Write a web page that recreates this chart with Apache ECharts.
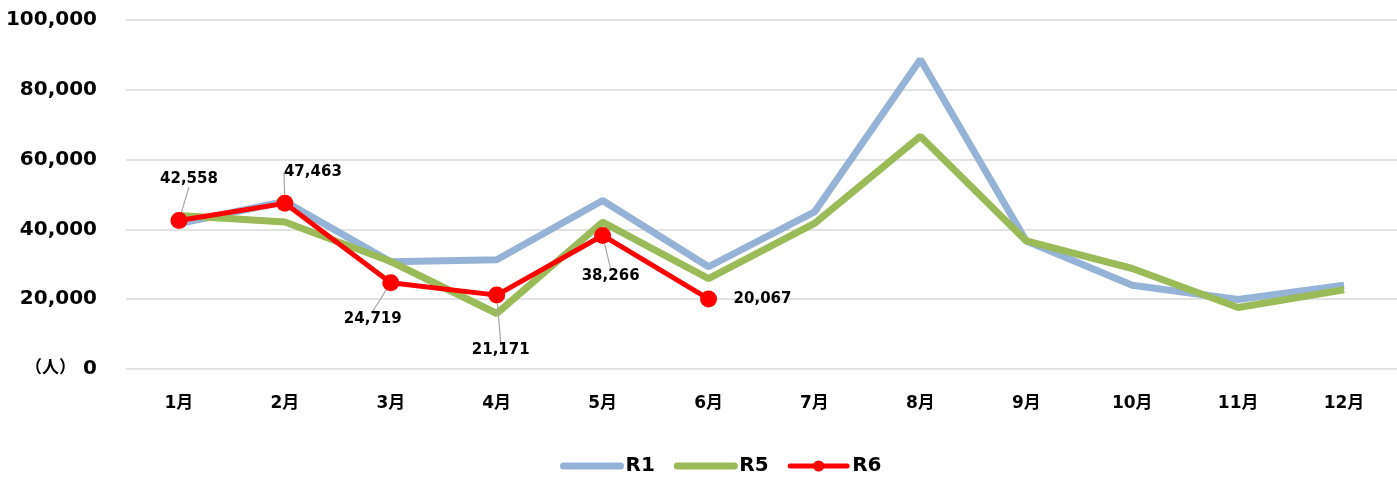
<!DOCTYPE html>
<html>
<head>
<meta charset="utf-8">
<script src="https://cdn.jsdelivr.net/npm/echarts@6/dist/echarts.min.js"></script>
<style>
  html, body { margin: 0; padding: 0; background: #fff; }
  #chart { width: 1397px; height: 479px; }
</style>
</head>
<body>
<div id="chart"></div>
<script>
const months = ['1月', '2月', '3月', '4月', '5月', '6月', '7月', '8月', '9月', '10月', '11月', '12月']
const r1 = [41700, 48000, 30700, 31300, 48300, 29300, 45000, 88700, 36700, 24000, 19900, 24000]
const r5 = [44000, 42100, 30800, 15900, 42100, 25900, 41700, 66700, 36700, 28800, 17600, 22700]
const r6 = [42558, 47463, 24719, 21171, 38266, 20067]
const yTicks = [0, 20000, 40000, 60000, 80000, 100000]

// label offsets from each R6 point (px)
const labelOffsets = [[10, -41], [28, -31], [-18, 36], [4, 55], [8, 41], [54, 0]]

const font = "'DejaVu Sans', 'Noto Sans CJK JP', sans-serif"

const r6Data = r6.map((v, i) => ({
  value: v,
  labelLine: { show: i !== 5 },
}))

const option = {
  animation: false,
  grid: { left: 126, right: 0, top: 20, bottom: 110 },
  xAxis: {
    type: 'category',
    data: months,
    axisLine: { show: false },
    axisTick: { show: false },
    axisLabel: { margin: 26, color: '#000', fontSize: 17, fontWeight: 'bold', fontFamily: font },
  },
  yAxis: {
    type: 'value',
    min: yTicks[0],
    max: yTicks[yTicks.length - 1],
    interval: 20000,
    axisLabel: {
      margin: 29,
      color: '#000',
      fontSize: 20,
      fontWeight: 'bold',
      fontFamily: font,
      formatter: (v) => (v === 0 ? '{u|（人）} 0' : v.toLocaleString('en-US')),
      rich: {
        u: { fontSize: 17, fontWeight: 'bold', fontFamily: font, color: '#000' },
      },
    },
    splitLine: { lineStyle: { color: '#d9d9d9', width: 1.5 } },
  },
  legend: {
    left: 555,
    top: 451,
    itemWidth: 57,
    itemHeight: 14,
    itemGap: 19,
    lineStyle: { width: 7, cap: 'round' },
    textStyle: { color: '#000', fontSize: 20, fontWeight: 'bold', fontFamily: font },
    data: [
      { name: 'R1', itemStyle: { opacity: 0 } },
      { name: 'R5', itemStyle: { opacity: 0 } },
      { name: 'R6', lineStyle: { width: 5, cap: 'round' } },
    ],
  },
  series: [
    {
      name: 'R1',
      type: 'line',
      data: r1,
      showSymbol: false,
      symbol: 'none',
      lineStyle: { color: '#95b3d7', width: 7 },
      itemStyle: { color: '#95b3d7' },
    },
    {
      name: 'R5',
      type: 'line',
      data: r5,
      showSymbol: false,
      symbol: 'none',
      lineStyle: { color: '#9bbb59', width: 7 },
      itemStyle: { color: '#9bbb59' },
    },
    {
      name: 'R6',
      type: 'line',
      data: r6Data,
      symbol: 'circle',
      symbolSize: 17,
      lineStyle: { color: '#ff0000', width: 5 },
      itemStyle: { color: '#ff0000' },
      label: {
        show: true,
        position: 'inside',
        color: '#000',
        fontSize: 15,
        fontWeight: 'bold',
        fontFamily: font,
        formatter: (p) => p.value.toLocaleString('en-US'),
      },
      labelLine: { show: true, lineStyle: { color: '#a6a6a6', width: 1.2 } },
      labelLayout: (p) => ({ dx: labelOffsets[p.dataIndex][0], dy: labelOffsets[p.dataIndex][1] }),
    },
  ],
}

const chart = echarts.init(document.getElementById('chart'))
chart.setOption(option)
</script>
</body>
</html>
